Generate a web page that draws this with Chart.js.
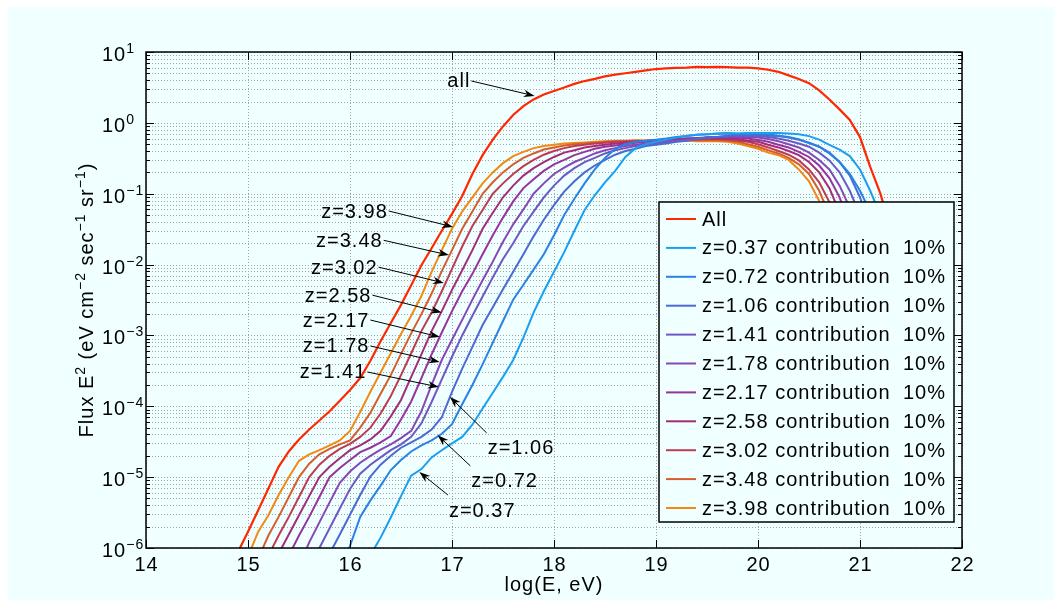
<!DOCTYPE html>
<html>
<head>
<meta charset="utf-8">
<script src="https://cdn.jsdelivr.net/npm/chart.js@4.4.1/dist/chart.umd.min.js"></script>
<style>
  html, body { margin: 0; padding: 0; background: #ffffff; }
  #wrap { width: 1062px; height: 609px; }
</style>
</head>
<body>
<div id="wrap"><canvas id="fluxChart" width="1062" height="609"></canvas></div>
<script>
// log10(E / eV) sampling shared by every curve
const energies = [
  14.9, 15.0, 15.1, 15.2, 15.3, 15.4, 15.5, 15.6, 15.7, 15.8,
  15.9, 16.0, 16.1, 16.2, 16.3, 16.4, 16.5, 16.6, 16.7, 16.8,
  16.9, 17.0, 17.1, 17.2, 17.3, 17.4, 17.5, 17.6, 17.7, 17.8,
  17.9, 18.0, 18.1, 18.2, 18.3, 18.4, 18.5, 18.6, 18.7, 18.8,
  18.9, 19.0, 19.1, 19.2, 19.3, 19.4, 19.5, 19.6, 19.7, 19.8,
  19.9, 20.0, 20.1, 20.2, 20.3, 20.4, 20.5, 20.6, 20.7, 20.8,
  20.9, 21.0, 21.1, 21.2, 21.3, 21.4, 21.5
];

// Flux E^2 (eV cm^-2 sec^-1 sr^-1)
const fluxAll = [
  8.7e-7, 1.7e-6, 3.4e-6, 6.9e-6, 1.4e-5, 2.3e-5, 3.4e-5, 4.7e-5, 6.3e-5, 8.5e-5,
  1.2e-4, 1.7e-4, 2.5e-4, 4.4e-4, 8.3e-4, 1.5e-3, 2.7e-3, 5.1e-3, 9.8e-3, 1.7e-2,
  3.0e-2, 5.2e-2, 9.3e-2, 0.19, 0.35, 0.58, 0.89, 1.29, 1.72, 2.14,
  2.51, 2.82, 3.16, 3.55, 3.89, 4.17, 4.52, 4.79, 5.01, 5.25,
  5.50, 5.75, 5.89, 5.96, 6.03, 6.17, 6.12, 6.17, 6.10, 6.03,
  6.00, 5.89, 5.62, 5.25, 4.68, 4.17, 3.63, 2.88, 2.14, 1.55,
  1.10, 0.63, 0.24, 0.10, 0.032, 0.0079, 0.0016
];
const fluxZ037 = [
  null, null, null, null, null, null, null, null, null, null,
  null, null, null, 7.9e-7, 1.4e-6, 2.7e-6, 5.4e-6, 1.05e-5, 1.3e-5, 1.9e-5,
  2.4e-5, 3.0e-5, 3.7e-5, 5.5e-5, 9.3e-5, 1.55e-4, 2.6e-4, 4.5e-4, 9.3e-4, 2.1e-3,
  4.2e-3, 7.9e-3, 1.5e-2, 3.0e-2, 5.9e-2, 9.5e-2, 0.145, 0.21, 0.33, 0.44,
  0.50, 0.54, 0.58, 0.62, 0.65, 0.68, 0.69, 0.71, 0.72, 0.71,
  0.72, 0.72, 0.72, 0.72, 0.71, 0.69, 0.65, 0.58, 0.49, 0.42,
  0.34, 0.22, 0.11, 0.05, 0.016, 0.004, null
];
const fluxZ072 = [
  null, null, null, null, null, null, null, null, null, null,
  5.0e-7, 1.07e-6, 2.75e-6, 4.7e-6, 7.6e-6, 1.26e-5, 1.75e-5, 2.3e-5, 2.8e-5, 3.3e-5,
  4.1e-5, 5.6e-5, 1.07e-4, 2.0e-4, 3.9e-4, 7.9e-4, 1.6e-3, 3.2e-3, 5.2e-3, 8.5e-3,
  1.4e-2, 2.6e-2, 5.0e-2, 8.5e-2, 0.14, 0.22, 0.32, 0.43, 0.50, 0.54,
  0.56, 0.58, 0.60, 0.63, 0.65, 0.68, 0.69, 0.70, 0.71, 0.70,
  0.71, 0.71, 0.69, 0.66, 0.63, 0.59, 0.52, 0.46, 0.37, 0.28,
  0.19, 0.11, 0.056, 0.02, 0.005, null, null
];
const fluxZ106 = [
  null, null, null, null, null, null, null, null, null, 8.3e-7,
  1.55e-6, 2.95e-6, 5.6e-6, 1.02e-5, 1.5e-5, 2.0e-5, 2.6e-5, 3.1e-5, 3.7e-5, 4.7e-5,
  7.0e-5, 1.6e-4, 3.4e-4, 6.9e-4, 1.4e-3, 2.5e-3, 4.5e-3, 7.9e-3, 1.4e-2, 2.5e-2,
  4.3e-2, 6.9e-2, 0.107, 0.15, 0.20, 0.25, 0.30, 0.355, 0.40, 0.43,
  0.47, 0.49, 0.51, 0.54, 0.56, 0.59, 0.62, 0.63, 0.66, 0.68,
  0.67, 0.68, 0.66, 0.65, 0.62, 0.575, 0.525, 0.46, 0.38, 0.28,
  0.18, 0.089, 0.032, 0.01, 0.0025, null, null
];
const fluxZ141 = [
  null, null, null, null, null, null, null, 5.2e-7, 1.0e-6, 1.9e-6,
  3.6e-6, 6.8e-6, 1.12e-5, 1.5e-5, 1.9e-5, 2.4e-5, 2.9e-5, 3.7e-5, 5.75e-5, 1.15e-4,
  2.4e-4, 5.0e-4, 1.0e-3, 1.9e-3, 3.55e-3, 6.6e-3, 1.2e-2, 2.0e-2, 3.5e-2, 5.6e-2,
  8.9e-2, 0.13, 0.18, 0.23, 0.28, 0.32, 0.37, 0.41, 0.44, 0.47,
  0.49, 0.51, 0.53, 0.55, 0.57, 0.59, 0.62, 0.63, 0.65, 0.65,
  0.66, 0.65, 0.63, 0.60, 0.56, 0.51, 0.46, 0.38, 0.295, 0.20,
  0.11, 0.05, 0.016, 0.004, null, null, null
];
const fluxZ178 = [
  null, null, null, null, null, null, 5.6e-7, 1.2e-6, 2.3e-6, 4.4e-6,
  8.3e-6, 1.2e-5, 1.6e-5, 2.0e-5, 2.45e-5, 2.9e-5, 3.55e-5, 4.5e-5, 8.5e-5, 2.0e-4,
  4.5e-4, 8.7e-4, 1.66e-3, 3.2e-3, 6.0e-3, 1.1e-2, 2.1e-2, 3.7e-2, 6.0e-2, 0.10,
  0.14, 0.19, 0.234, 0.28, 0.32, 0.37, 0.41, 0.44, 0.47, 0.49,
  0.51, 0.53, 0.55, 0.56, 0.575, 0.60, 0.62, 0.63, 0.63, 0.64,
  0.63, 0.62, 0.59, 0.55, 0.50, 0.45, 0.38, 0.30, 0.22, 0.13,
  0.063, 0.022, 0.0063, null, null, null, null
];
const fluxZ217 = [
  null, null, null, null, null, 7.8e-7, 1.5e-6, 2.75e-6, 5.25e-6, 1.0e-5,
  1.35e-5, 1.75e-5, 2.25e-5, 2.6e-5, 3.1e-5, 3.8e-5, 6.5e-5, 1.17e-4, 2.5e-4, 5.4e-4,
  1.1e-3, 2.2e-3, 4.2e-3, 7.4e-3, 1.4e-2, 2.6e-2, 4.6e-2, 7.8e-2, 0.12, 0.16,
  0.21, 0.26, 0.30, 0.35, 0.39, 0.43, 0.46, 0.48, 0.50, 0.525,
  0.54, 0.55, 0.56, 0.575, 0.60, 0.61, 0.62, 0.62, 0.62, 0.62,
  0.60, 0.575, 0.54, 0.49, 0.45, 0.39, 0.33, 0.25, 0.166, 0.089,
  0.035, 0.011, 0.0032, null, null, null, null
];
const fluxZ258 = [
  null, null, null, null, 8.3e-7, 1.55e-6, 2.9e-6, 5.4e-6, 1.0e-5, 1.4e-5,
  1.85e-5, 2.4e-5, 2.8e-5, 3.4e-5, 4.5e-5, 7.2e-5, 1.23e-4, 2.6e-4, 5.4e-4, 1.15e-3,
  2.2e-3, 4.4e-3, 8.3e-3, 1.6e-2, 3.2e-2, 5.4e-2, 8.9e-2, 0.13, 0.18, 0.23,
  0.28, 0.33, 0.38, 0.41, 0.45, 0.47, 0.49, 0.51, 0.525, 0.54,
  0.55, 0.56, 0.575, 0.59, 0.60, 0.60, 0.61, 0.60, 0.60, 0.59,
  0.56, 0.54, 0.49, 0.45, 0.40, 0.35, 0.28, 0.20, 0.12, 0.054,
  0.02, 0.0063, null, null, null, null, null
];
const fluxZ302 = [
  null, null, null, 7.8e-7, 1.5e-6, 2.75e-6, 5.25e-6, 1.0e-5, 1.5e-5, 2.0e-5,
  2.5e-5, 2.95e-5, 3.7e-5, 5.0e-5, 7.9e-5, 1.4e-4, 2.75e-4, 5.6e-4, 1.15e-3, 2.1e-3,
  4.2e-3, 8.7e-3, 1.8e-2, 3.5e-2, 5.9e-2, 0.10, 0.14, 0.19, 0.245, 0.30,
  0.355, 0.40, 0.44, 0.47, 0.49, 0.51, 0.525, 0.54, 0.545, 0.55,
  0.56, 0.575, 0.58, 0.59, 0.59, 0.58, 0.59, 0.59, 0.58, 0.56,
  0.54, 0.50, 0.45, 0.40, 0.355, 0.295, 0.22, 0.145, 0.076, 0.032,
  0.01, 0.0025, null, null, null, null, null
];
const fluxZ348 = [
  null, null, 7.1e-7, 1.5e-6, 2.75e-6, 5.25e-6, 1.0e-5, 1.55e-5, 2.1e-5, 2.5e-5,
  2.9e-5, 3.3e-5, 5.0e-5, 8.1e-5, 1.5e-4, 2.75e-4, 5.5e-4, 1.07e-3, 2.0e-3, 3.9e-3,
  8.1e-3, 1.6e-2, 3.2e-2, 5.6e-2, 0.10, 0.145, 0.20, 0.26, 0.32, 0.37,
  0.42, 0.45, 0.48, 0.50, 0.51, 0.525, 0.54, 0.545, 0.55, 0.56,
  0.56, 0.575, 0.57, 0.57, 0.58, 0.57, 0.57, 0.57, 0.56, 0.54,
  0.50, 0.46, 0.41, 0.37, 0.32, 0.26, 0.19, 0.11, 0.05, 0.018,
  0.005, null, null, null, null, null, null
];
const fluxZ398 = [
  null, 7.6e-7, 1.7e-6, 2.9e-6, 5.6e-6, 1.0e-5, 1.7e-5, 2.1e-5, 2.4e-5, 2.8e-5,
  3.3e-5, 4.5e-5, 8.3e-5, 1.6e-4, 3.0e-4, 5.6e-4, 1.05e-3, 1.9e-3, 3.6e-3, 7.9e-3,
  1.6e-2, 3.2e-2, 5.6e-2, 8.9e-2, 0.14, 0.20, 0.27, 0.34, 0.39, 0.44,
  0.47, 0.49, 0.51, 0.52, 0.53, 0.54, 0.55, 0.56, 0.56, 0.57,
  0.56, 0.57, 0.56, 0.55, 0.56, 0.55, 0.55, 0.55, 0.54, 0.51,
  0.47, 0.43, 0.38, 0.35, 0.30, 0.22, 0.15, 0.079, 0.032, 0.010,
  0.0025, null, null, null, null, null, null
];

const redshifts = ['0.37', '0.72', '1.06', '1.41', '1.78', '2.17', '2.58', '3.02', '3.48', '3.98'];
const contribution = '10%';
const zSeries = [fluxZ037, fluxZ072, fluxZ106, fluxZ141, fluxZ178, fluxZ217, fluxZ258, fluxZ302, fluxZ348, fluxZ398];

const xTicks = [14, 15, 16, 17, 18, 19, 20, 21, 22];
const yExponents = [-6, -5, -4, -3, -2, -1, 0, 1];

// arrow notes: tail = where the text sits, head = point on the curve
const notes = [
  { text: 'all',    side: 'left',  tail: [17.19, 3.9],     head: [17.81, 2.4] },
  { text: 'z=3.98', side: 'left',  tail: [16.38, 5.7e-2],  head: [17.01, 3.4e-2] },
  { text: 'z=3.48', side: 'left',  tail: [16.33, 2.2e-2],  head: [16.97, 1.36e-2] },
  { text: 'z=3.02', side: 'left',  tail: [16.28, 9.2e-3],  head: [16.92, 5.5e-3] },
  { text: 'z=2.58', side: 'left',  tail: [16.22, 3.7e-3],  head: [16.90, 2.1e-3] },
  { text: 'z=2.17', side: 'left',  tail: [16.20, 1.65e-3], head: [16.88, 9.5e-4] },
  { text: 'z=1.78', side: 'left',  tail: [16.20, 7.1e-4],  head: [16.88, 4.2e-4] },
  { text: 'z=1.41', side: 'left',  tail: [16.17, 3.05e-4], head: [16.87, 1.87e-4] },
  { text: 'z=1.06', side: 'below', tail: [17.34, 4.2e-5],  head: [16.98, 1.35e-4] },
  { text: 'z=0.72', side: 'below', tail: [17.18, 1.44e-5], head: [16.86, 3.9e-5] },
  { text: 'z=0.37', side: 'below', tail: [16.96, 5.6e-6],  head: [16.68, 1.18e-5] }
];

const allColor = '#ff2800';
const zColors = ['#1a9ff0', '#2a82e2', '#4b6ad2', '#6f58c4', '#8847b4',
                 '#98339d', '#a42c79', '#bf3b52', '#d85d2c', '#f28a12'];

const FONT = '"Liberation Sans", Arial, Helvetica, sans-serif';
const bgColor = '#f0ffff';

function toPoints(values) {
    const pts = [];
    values.forEach((v, i) => {
        if (v !== null) pts.push({ x: energies[i], y: v });
    });
    return pts;
}

function setFont(ctx, size) {
    ctx.font = `${size}px ${FONT}`;
    ctx.letterSpacing = '1px';
}

// draws a run list like [['10', false], ['-1', true]] starting at x
function drawRuns(ctx, runs, x, y, size, supSize, raise) {
    runs.forEach(([txt, sup]) => {
        setFont(ctx, sup ? supSize : size);
        ctx.fillText(txt, x, sup ? y - raise : y);
        x += ctx.measureText(txt).width;
    });
}

function runsWidth(ctx, runs, size, supSize) {
    let w = 0;
    runs.forEach(([txt, sup]) => {
        setFont(ctx, sup ? supSize : size);
        w += ctx.measureText(txt).width;
    });
    return w;
}

function drawArrow(ctx, x1, y1, x2, y2) {
    const ang = Math.atan2(y2 - y1, x2 - x1);
    const len = 11, half = 3.8;
    ctx.beginPath();
    ctx.moveTo(x1, y1);
    ctx.lineTo(x2 - Math.cos(ang) * 6, y2 - Math.sin(ang) * 6);
    ctx.stroke();
    const bx = x2 - Math.cos(ang) * len, by = y2 - Math.sin(ang) * len;
    const nx = x2 - Math.cos(ang) * len * 0.7, ny = y2 - Math.sin(ang) * len * 0.7;
    ctx.beginPath();
    ctx.moveTo(x2, y2);
    ctx.lineTo(bx + Math.sin(ang) * half, by - Math.cos(ang) * half);
    ctx.lineTo(nx, ny);
    ctx.lineTo(bx - Math.sin(ang) * half, by + Math.cos(ang) * half);
    ctx.closePath();
    ctx.fill();
}

const figurePlugin = {
    id: 'figure',
    beforeDraw(chart) {
        const ctx = chart.ctx;
        const { left, right, top, bottom } = chart.chartArea;
        const xs = chart.scales.x, ys = chart.scales.y;
        ctx.save();
        ctx.fillStyle = '#ffffff';
        ctx.fillRect(0, 0, chart.width, chart.height);
        ctx.fillStyle = bgColor;
        ctx.fillRect(8, 7, chart.width - 16, chart.height - 16);

        // dotted grid: integer log(E) and every 1..9 x 10^n of flux
        ctx.strokeStyle = '#a4a4a4';
        ctx.lineWidth = 1;
        ctx.setLineDash([1, 2]);
        xTicks.forEach(v => {
            const px = Math.round(xs.getPixelForValue(v)) + 0.5;
            ctx.beginPath(); ctx.moveTo(px, top); ctx.lineTo(px, bottom); ctx.stroke();
        });
        yExponents.forEach(e => {
            for (let m = 1; m <= 9; m++) {
                const v = m * Math.pow(10, e);
                if (v > 10.0001) break;
                const py = Math.round(ys.getPixelForValue(v)) + 0.5;
                ctx.beginPath(); ctx.moveTo(left, py); ctx.lineTo(right, py); ctx.stroke();
            }
        });
        ctx.restore();
    },
    afterDatasetsDraw(chart) {
        const ctx = chart.ctx;
        const { left, right, top, bottom } = chart.chartArea;
        const xs = chart.scales.x, ys = chart.scales.y;
        ctx.save();

        // box and tick marks
        ctx.strokeStyle = '#000000';
        ctx.lineWidth = 1.5;
        ctx.strokeRect(left, top, right - left, bottom - top);
        ctx.lineWidth = 1;
        xTicks.forEach(v => {
            const px = Math.round(xs.getPixelForValue(v)) + 0.5;
            ctx.beginPath();
            ctx.moveTo(px, bottom); ctx.lineTo(px, bottom - 8);
            ctx.moveTo(px, top); ctx.lineTo(px, top + 8);
            ctx.stroke();
        });
        yExponents.forEach(e => {
            for (let m = 1; m <= 9; m++) {
                const v = m * Math.pow(10, e);
                if (v > 10.0001) break;
                const py = Math.round(ys.getPixelForValue(v)) + 0.5;
                const len = m === 1 ? 8 : 4;
                ctx.beginPath();
                ctx.moveTo(left, py); ctx.lineTo(left + len, py);
                ctx.moveTo(right, py); ctx.lineTo(right - len, py);
                ctx.stroke();
            }
        });

        // arrow notes
        ctx.fillStyle = '#000000';
        ctx.strokeStyle = '#000000';
        ctx.lineWidth = 1;
        notes.forEach(n => {
            const tx = xs.getPixelForValue(n.tail[0]), ty = ys.getPixelForValue(n.tail[1]);
            const hx = xs.getPixelForValue(n.head[0]), hy = ys.getPixelForValue(n.head[1]);
            drawArrow(ctx, tx, ty, hx, hy);
            setFont(ctx, 20);
            ctx.textBaseline = 'middle';
            if (n.side === 'left') {
                ctx.textAlign = 'right';
                ctx.fillText(n.text, tx - 1, ty + 1);
            } else {
                ctx.textAlign = 'left';
                ctx.fillText(n.text, tx + 1, ty + 16);
            }
        });

        // legend
        const lx = 659, ly = 202, lw = 295, lh = 320;
        ctx.fillStyle = bgColor;
        ctx.fillRect(lx, ly, lw, lh);
        ctx.strokeStyle = '#000000';
        ctx.lineWidth = 1.5;
        ctx.strokeRect(lx, ly, lw, lh);
        const rows = [{ label: 'All', color: allColor, pct: '' }].concat(
            redshifts.map((z, i) => ({ label: `z=${z} contribution`, color: zColors[i], pct: contribution })));
        rows.forEach((r, i) => {
            const cy = 219 + i * 28.9;
            ctx.strokeStyle = r.color;
            ctx.lineWidth = 2;
            ctx.beginPath(); ctx.moveTo(666, cy); ctx.lineTo(696, cy); ctx.stroke();
            ctx.fillStyle = '#000000';
            setFont(ctx, 20);
            ctx.textAlign = 'left';
            ctx.textBaseline = 'middle';
            ctx.fillText(r.label, 702, cy + 1);
            if (r.pct) ctx.fillText(r.pct, 903, cy + 1);
        });
        ctx.restore();
    },
    afterDraw(chart) {
        const ctx = chart.ctx;
        const { left, right, top, bottom } = chart.chartArea;
        const xs = chart.scales.x, ys = chart.scales.y;
        ctx.save();
        ctx.fillStyle = '#000000';
        ctx.textBaseline = 'alphabetic';

        // x tick labels
        setFont(ctx, 20);
        ctx.textAlign = 'center';
        xTicks.forEach(v => ctx.fillText(String(v), xs.getPixelForValue(v) + 0.5, 571));

        // y tick labels 10^n
        ctx.textAlign = 'left';
        yExponents.forEach(e => {
            const py = ys.getPixelForValue(Math.pow(10, e));
            const exp = e < 0 ? '\u2212' + Math.abs(e) : String(e);
            drawRuns(ctx, [['10', false], [exp, true]], 102, py + 9, 20, 14, 8);
        });

        // axis titles
        setFont(ctx, 20);
        ctx.textAlign = 'center';
        ctx.fillText('log(E, eV)', (left + right) / 2, 591);

        const title = [['Flux E', false], ['2', true], [' (eV cm', false], ['\u22122', true],
                       [' sec', false], ['\u22121', true], [' sr', false], ['\u22121', true], [')', false]];
        ctx.translate(93, (top + bottom) / 2);
        ctx.rotate(-Math.PI / 2);
        ctx.textAlign = 'left';
        const w = runsWidth(ctx, title, 20, 14);
        drawRuns(ctx, title, -w / 2, 0, 20, 14, 8);
        ctx.restore();
    }
};

const datasets = [{
    label: 'All',
    data: toPoints(fluxAll),
    borderColor: allColor,
    borderWidth: 2.2
}].concat(zSeries.map((s, i) => ({
    label: `z=${redshifts[i]} contribution ${contribution}`,
    data: toPoints(s),
    borderColor: zColors[i],
    borderWidth: 2
})));

new Chart(document.getElementById('fluxChart'), {
    type: 'line',
    data: { datasets: datasets },
    options: {
        responsive: false,
        animation: false,
        devicePixelRatio: 1,
        layout: { padding: { left: 146, right: 100, top: 52, bottom: 61 } },
        elements: {
            point: { radius: 0, hoverRadius: 0 },
            line: { tension: 0, fill: false }
        },
        scales: {
            x: { type: 'linear', min: 14, max: 22, display: false },
            y: { type: 'logarithmic', min: 1e-6, max: 10, display: false }
        },
        plugins: {
            legend: { display: false },
            tooltip: { enabled: false }
        },
        events: []
    },
    plugins: [figurePlugin]
});
</script>
</body>
</html>
